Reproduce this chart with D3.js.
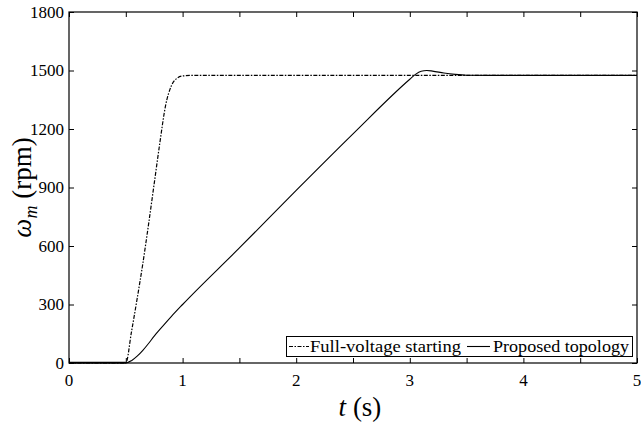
<!DOCTYPE html>
<html><head><meta charset="utf-8">
<script src="https://cdn.jsdelivr.net/npm/d3@7"></script>
<style>body{margin:0;background:#fff}svg{display:block}</style>
</head><body><svg id="c" width="641" height="424"></svg>
<script>
const fullT   = [0, 0.5, 0.55, 0.6, 0.65, 0.7, 0.75, 0.8, 0.85, 0.9, 0.95, 1.0, 1.1, 5];
const fullW   = [0, 0, 160, 330, 510, 710, 920, 1130, 1320, 1420, 1460, 1472, 1475, 1475];
const propT   = [0, 0.5, 0.55, 0.6, 0.65, 0.7, 0.75, 0.8, 0.9, 1.0, 1.5, 2.0, 2.5, 3.0, 3.05, 3.1, 3.15, 3.2, 3.3, 3.4, 3.5, 3.7, 5];
const propW   = [0, 0, 12, 35, 65, 100, 138, 172, 238, 300, 590, 885, 1175, 1455, 1480, 1496, 1500, 1497, 1487, 1480, 1476, 1475, 1475];
const xTicks  = [0, 1, 2, 3, 4, 5];
const yTicks  = [0, 300, 600, 900, 1200, 1500, 1800];
const legendLabels = ["Full-voltage starting", "Proposed topology"];

const svg = d3.select("#c");
const L = 69, R = 637, T = 12, B = 363;
const x = d3.scaleLinear().domain([0, 5]).range([L, R]);
const y = d3.scaleLinear().domain([0, 1800]).range([B, T]);

const g = svg.append("g");
const xMinor = d3.range(0, 5.01, 0.5);
g.append("g").attr("transform", `translate(0,${B})`)
  .call(d3.axisBottom(x).tickValues(xMinor).tickSize(-5).tickFormat(""))
  .call(s => s.select(".domain").remove());
g.append("g").attr("transform", `translate(0,${T})`)
  .call(d3.axisTop(x).tickValues(xMinor).tickSize(-5).tickFormat(""))
  .call(s => s.select(".domain").remove());
g.append("g").attr("transform", `translate(${L},0)`)
  .call(d3.axisLeft(y).tickValues(yTicks).tickSize(-5).tickFormat(""))
  .call(s => s.select(".domain").remove());
g.append("g").attr("transform", `translate(${R},0)`)
  .call(d3.axisRight(y).tickValues(yTicks).tickSize(-5).tickFormat(""))
  .call(s => s.select(".domain").remove());
g.selectAll(".tick line").attr("stroke", "#000").attr("stroke-width", 1);

const FF = "'Liberation Serif', 'DejaVu Serif', 'Noto Serif', serif";
g.selectAll(".xl").data(xTicks).join("text")
  .attr("font-family", FF)
  .attr("x", d => x(d)).attr("y", B + 23).attr("text-anchor", "middle")
  .attr("font-size", 17).text(d => d);
g.selectAll(".yl").data(yTicks).join("text")
  .attr("font-family", FF)
  .attr("x", L - 5).attr("y", d => y(d) + 5.5).attr("text-anchor", "end")
  .attr("font-size", 17).text(d => d);

const lineGen = d3.line().x(d => x(d[0])).y(d => y(d[1])).curve(d3.curveMonotoneX);
const fullData = fullT.map((t, i) => [t, fullW[i]]);
const propData = propT.map((t, i) => [t, propW[i]]);
g.append("path").datum(propData).attr("d", lineGen).attr("fill", "none")
  .attr("stroke", "#000").attr("stroke-width", 1.1);
g.append("path").datum(fullData).attr("d", lineGen).attr("fill", "none")
  .attr("stroke", "#000").attr("stroke-width", 1.2).attr("stroke-dasharray", "4,1.5,1.5,1.5");

g.append("rect").attr("x", L).attr("y", T).attr("width", R - L).attr("height", B - T)
  .attr("fill", "none").attr("stroke", "#000").attr("stroke-width", 1.2);
g.append("line").attr("x1", L).attr("x2", x(0.5)).attr("y1", B - 0.5).attr("y2", B - 0.5)
  .attr("stroke", "#000").attr("stroke-width", 1.5);

const lg = g.append("g");
lg.append("rect").attr("x", 286.5).attr("y", 336.5).attr("width", 346).attr("height", 20)
  .attr("fill", "#fff").attr("stroke", "#000").attr("stroke-width", 1);
lg.append("line").attr("x1", 289).attr("x2", 309).attr("y1", 346.5).attr("y2", 346.5)
  .attr("stroke", "#000").attr("stroke-width", 1.2).attr("stroke-dasharray", "4,1.5,1.5,1.5");
lg.append("text").attr("font-family", FF).attr("x", 310).attr("y", 352).attr("font-size", 17)
  .attr("textLength", 151).attr("lengthAdjust", "spacingAndGlyphs").text(legendLabels[0]);
lg.append("line").attr("x1", 467).attr("x2", 490).attr("y1", 346.5).attr("y2", 346.5)
  .attr("stroke", "#000").attr("stroke-width", 1.1);
lg.append("text").attr("font-family", FF).attr("x", 493).attr("y", 352).attr("font-size", 17)
  .attr("textLength", 136).attr("lengthAdjust", "spacingAndGlyphs").text(legendLabels[1]);

const xt = g.append("text").attr("font-family", FF).attr("x", 360).attr("y", 416).attr("text-anchor", "middle").attr("font-size", 27);
xt.append("tspan").attr("font-style", "italic").text("t");
xt.append("tspan").text(" (s)");
const yt = g.append("text").attr("font-family", FF).attr("transform", `translate(31,${(T + B) / 2}) rotate(-90)`).attr("text-anchor", "middle").attr("font-size", 27);
yt.append("tspan").attr("font-style", "italic").text("ω");
yt.append("tspan").attr("font-style", "italic").attr("font-size", 18).attr("dy", 6).text("m");
yt.append("tspan").attr("dy", -6).text(" (rpm)");
</script></body></html>
